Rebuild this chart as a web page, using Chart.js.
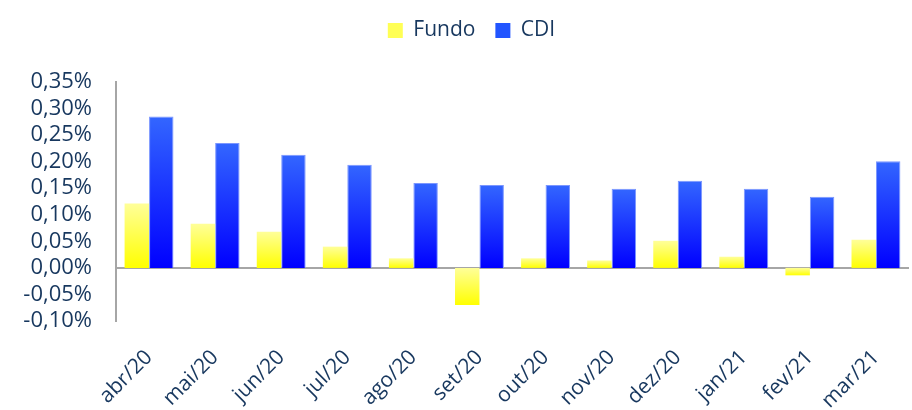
<!DOCTYPE html>
<html>
<head>
<meta charset="utf-8">
<script src="https://cdn.jsdelivr.net/npm/chart.js@4"></script>
<style>
  html, body { margin: 0; padding: 0; background: #fff; }
  #chart { display: block; }
</style>
</head>
<body>
<canvas id="chart" width="912" height="410"></canvas>
<script>
const months = ['abr/20', 'mai/20', 'jun/20', 'jul/20', 'ago/20', 'set/20', 'out/20', 'nov/20', 'dez/20', 'jan/21', 'fev/21', 'mar/21'];
const fundo  = [0.121, 0.083, 0.068, 0.040, 0.018, -0.070, 0.018, 0.014, 0.051, 0.021, -0.014, 0.053];
const cdi    = [0.285, 0.235, 0.213, 0.194, 0.160, 0.156, 0.156, 0.149, 0.164, 0.149, 0.134, 0.201];
const yMin = -0.10, yMax = 0.35, yStep = 0.05;

const textColor = '#17375e';
const axisGray = '#a6a6a6';
const fontFamily = '"Open Sans", "Liberation Sans", sans-serif';

// vertical gradient over each bar, light on top, saturated at the bottom
function barFill(topColor, bottomColor) {
    return (context) => {
        const chart = context.chart;
        if (context.type !== 'data' || !chart.chartArea) return bottomColor;
        const y = chart.scales.y;
        const v = context.raw;
        const p1 = y.getPixelForValue(Math.max(v, 0));
        const p2 = y.getPixelForValue(Math.min(v, 0));
        if (p2 - p1 < 1) return bottomColor;
        const g = chart.ctx.createLinearGradient(0, p1, 0, p2);
        g.addColorStop(0, topColor);
        g.addColorStop(1, bottomColor);
        return g;
    };
}

const formatPct = (v) => {
    if (Math.abs(v) < 1e-9) v = 0;
    return v.toFixed(2).replace('.', ',') + '%';
};

// legend sits over the plot centre and leaves a gap below it
const legendTweak = {
    id: 'legendTweak',
    afterInit(chart) {
        const legend = chart.legend;
        const fit = legend.fit;
        legend.fit = function () {
            fit.call(this);
            this.height += 31;
        };
    },
    afterLayout(chart) {
        chart.legend.left += 34;
    }
};

new Chart(document.getElementById('chart'), {
    type: 'bar',
    data: {
        labels: months,
        datasets: [
            {
                label: 'Fundo',
                data: fundo,
                backgroundColor: barFill('#ffff99', '#ffff00'),
                borderWidth: 0,
                categoryPercentage: 0.74,
                barPercentage: 1.0
            },
            {
                label: 'CDI',
                data: cdi,
                backgroundColor: barFill('#3366ff', '#0000ff'),
                borderColor: '#7b96ff',
                borderWidth: 1,
                categoryPercentage: 0.74,
                barPercentage: 1.0
            }
        ]
    },
    options: {
        responsive: false,
        animation: false,
        layout: { padding: { left: 0, right: 3, top: 0, bottom: 0 } },
        plugins: {
            tooltip: { enabled: false },
            legend: {
                position: 'top',
                labels: {
                    color: textColor,
                    font: { family: fontFamily, size: 21 },
                    boxWidth: 15,
                    boxHeight: 15,
                    padding: 20,
                    generateLabels: () => [
                        { text: 'Fundo', fillStyle: '#ffff55', strokeStyle: '#ffff55', lineWidth: 0, datasetIndex: 0, fontColor: textColor },
                        { text: 'CDI', fillStyle: '#2255ff', strokeStyle: '#2255ff', lineWidth: 0, datasetIndex: 1, fontColor: textColor }
                    ]
                }
            }
        },
        scales: {
            x: {
                grid: { display: false },
                border: { display: false },
                ticks: {
                    color: textColor,
                    font: { family: fontFamily, size: 21 },
                    maxRotation: 45,
                    minRotation: 45,
                    autoSkip: false,
                    padding: 16
                },
                afterFit: (scale) => { scale.height = 89; }
            },
            y: {
                min: yMin,
                max: yMax,
                ticks: {
                    stepSize: yStep,
                    autoSkip: false,
                    color: textColor,
                    font: { family: fontFamily, size: 22 },
                    padding: 24,
                    callback: (v) => formatPct(v)
                },
                grid: {
                    drawTicks: false,
                    color: (ctx) => (Math.abs(ctx.tick.value) < 1e-9 ? axisGray : 'rgba(0,0,0,0)'),
                    lineWidth: 2
                },
                border: { display: true, color: axisGray, width: 2 },
                afterFit: (scale) => { scale.width = 116; }
            }
        }
    },
    plugins: [legendTweak]
});
</script>
</body>
</html>
